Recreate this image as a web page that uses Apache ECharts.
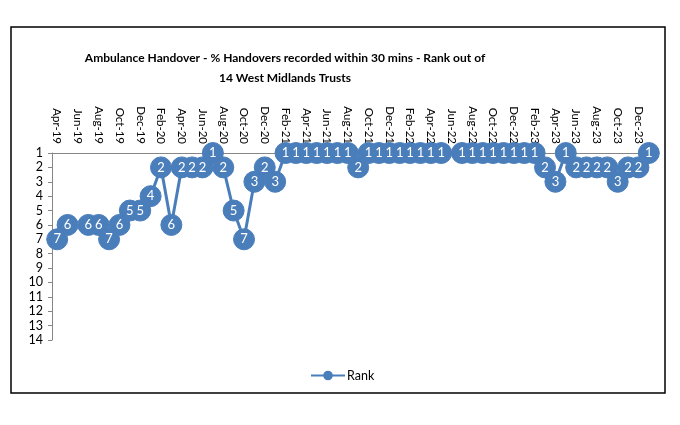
<!DOCTYPE html>
<html>
<head>
<meta charset="utf-8">
<script src="https://cdn.jsdelivr.net/npm/echarts@6/dist/echarts.min.js"></script>
<style>
html, body { margin: 0; padding: 0; background: #fff; }
#chart { width: 680px; height: 425px; }
</style>
</head>
<body>
<div id="chart"></div>
<script>
// months Apr-19 .. Jan-24
var months = [
  'Apr-19','May-19','Jun-19','Jul-19','Aug-19','Sep-19','Oct-19','Nov-19','Dec-19',
  'Jan-20','Feb-20','Mar-20','Apr-20','May-20','Jun-20','Jul-20','Aug-20','Sep-20','Oct-20','Nov-20','Dec-20',
  'Jan-21','Feb-21','Mar-21','Apr-21','May-21','Jun-21','Jul-21','Aug-21','Sep-21','Oct-21','Nov-21','Dec-21',
  'Jan-22','Feb-22','Mar-22','Apr-22','May-22','Jun-22','Jul-22','Aug-22','Sep-22','Oct-22','Nov-22','Dec-22',
  'Jan-23','Feb-23','Mar-23','Apr-23','May-23','Jun-23','Jul-23','Aug-23','Sep-23','Oct-23','Nov-23','Dec-23',
  'Jan-24'
];

// rank out of 14 (null = no data that month)
var rank = [
  7, 6, null, 6, 6, 7, 6, 5, 5,
  4, 2, 6, 2, 2, 2, 1, 2, 5, 7, 3, 2,
  3, 1, 1, 1, 1, 1, 1, 1, 2, 1, 1, 1,
  1, 1, 1, 1, 1, null, 1, 1, 1, 1, 1, 1,
  1, 1, 2, 3, 1, 2, 2, 2, 2, 3, 2, 2,
  1
];

var rankTicks = [1, 14];

var myChart = echarts.init(document.getElementById('chart'));

var option = {
    backgroundColor: '#fff',
    animation: false,
    // 标题
    title: {
        text: 'Ambulance Handover - % Handovers recorded within 30 mins - Rank out of\n14 West Midlands Trusts',
        left: 280,
        top: 43,
        textAlign: 'center',
        textStyle: {
            fontFamily: 'Lato, sans-serif',
            fontSize: 12,
            fontWeight: 'bold',
            color: '#000',
            lineHeight: 20
        }
    },
    legend: {
        data: ['Rank'],
        left: 305,
        top: 364,
        itemWidth: 34,
        itemHeight: 12,
        itemGap: 2,
        textStyle: {
            fontFamily: 'Lato, sans-serif',
            fontSize: 12.5,
            color: '#000',
            padding: [0, 0, 0, -3]
        }
    },
    grid: {
        left: 52,
        right: 26,
        top: 153,
        bottom: 85
    },
    xAxis: {
        type: 'category',
        position: 'top',
        boundaryGap: true,
        data: months,
        axisLine: { lineStyle: { color: '#868686', width: 1 } },
        axisTick: { interval: 1, length: 4, inside: false, lineStyle: { color: '#868686' } },
        axisLabel: {
            interval: 1,
            rotate: 90,
            margin: 9,
            fontFamily: 'Lato, sans-serif',
            fontSize: 11.5,
            color: '#000'
        },
        splitLine: { show: false }
    },
    yAxis: {
        type: 'value',
        inverse: true,
        min: rankTicks[0],
        max: rankTicks[1],
        interval: 1,
        axisLine: { show: true, lineStyle: { color: '#868686', width: 1 } },
        axisTick: { show: true, length: 4, lineStyle: { color: '#868686' } },
        axisLabel: {
            margin: 9,
            fontFamily: 'Lato, sans-serif',
            fontSize: 12.5,
            color: '#000'
        },
        splitLine: { show: false }
    },
    series: [
        {
            name: 'Rank',
            type: 'line',
            data: rank,
            connectNulls: false,
            showAllSymbol: true,
            color: '#4A7EBB',
            symbol: 'circle',
            symbolSize: 21,
            lineStyle: { width: 3, color: '#4A7EBB' },
            itemStyle: { color: '#4A7EBB', borderColor: '#4A7EBB' },
            label: {
                show: true,
                position: 'inside',
                color: '#fff',
                fontFamily: 'Lato, sans-serif',
                fontSize: 13
            },
            labelLayout: { hideOverlap: false }
        }
    ],
    graphic: [
        {
            type: 'rect',
            shape: { x: 11, y: 27, width: 654, height: 366 },
            style: { fill: 'none', stroke: '#000', lineWidth: 1.5 },
            silent: true,
            z: 100
        }
    ]
};

myChart.setOption(option);
</script>
</body>
</html>
